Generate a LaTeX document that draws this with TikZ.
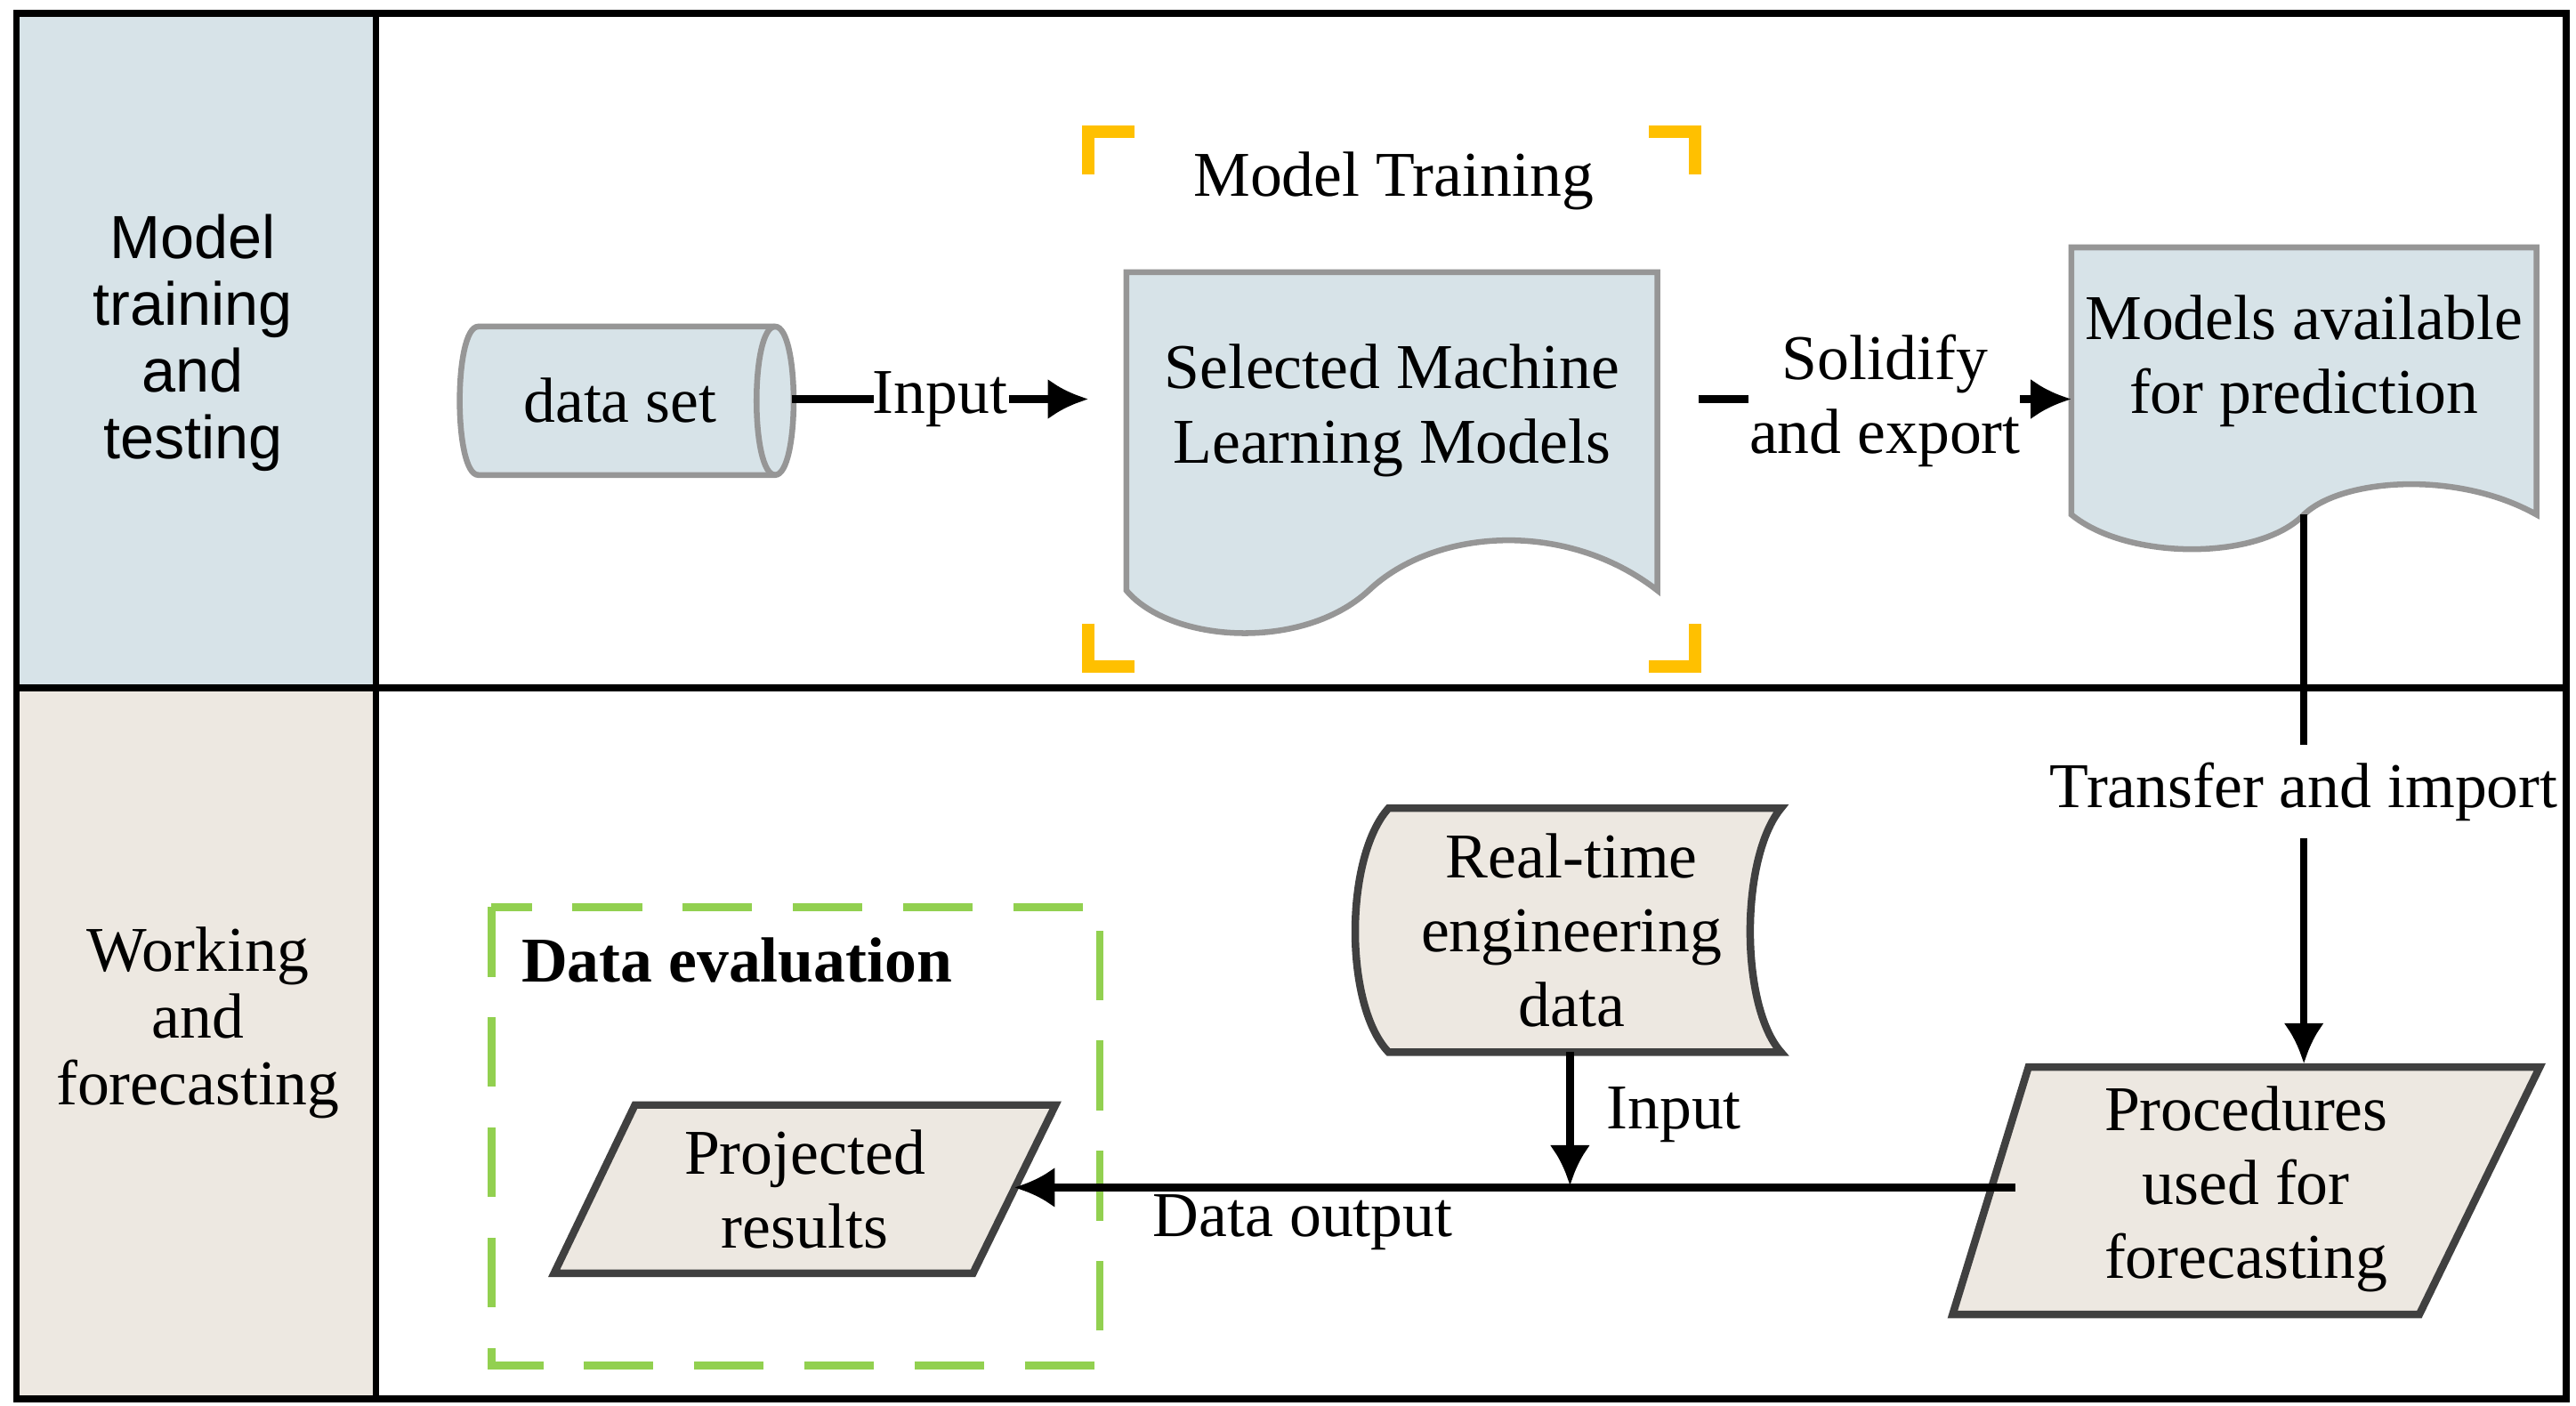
\documentclass[tikz,border=0pt]{standalone}
\usepackage{fontspec}
\setmainfont{Liberation Serif}
\newfontfamily\labsans{Liberation Sans}
\usetikzlibrary{arrows.meta}
\definecolor{bluefill}{RGB}{215,227,232}
\definecolor{beigefill}{RGB}{237,232,225}
\definecolor{shapeedge}{RGB}{150,150,150}
\definecolor{markorange}{RGB}{255,192,0}
\definecolor{evalgreen}{RGB}{146,208,80}
\tikzset{
  txt/.style={align=center,font=\fontsize{11}{12.8}\selectfont,inner sep=1pt},
  shp/.style={draw=shapeedge,line width=1pt},
  flow/.style={line width=1.3pt,-{Latex[length=7pt,width=7pt]}},
  orangemark/.style={markorange,line width=2.2pt},
}
\begin{document}
\begin{tikzpicture}[x=0.01cm,y=-0.01cm]
  \useasboundingbox (0,0) rectangle (1562,852);
  % lanes
  \fill[bluefill] (10,8) rectangle (228,417);
  \fill[beigefill] (10,417) rectangle (228,848);
  \draw[line width=1.2pt] (10,8) rectangle (1556,848);
  \draw[line width=1.2pt] (228,8) -- (228,848) (10,417) -- (1556,417);
  \node[txt,font=\labsans\fontsize{10.5}{11.5}\selectfont] (laneA) at (117,208) {Model\\training\\and\\testing};
  \node[txt,font=\fontsize{11}{11.5}\selectfont] (laneB) at (120,620) {Working\\and\\forecasting};
  % model training corners
  \draw[orangemark] (660,106) -- (660,80) -- (688,80) (1000,80) -- (1028,80) -- (1028,106)
    (660,378) -- (660,404) -- (688,404) (1000,404) -- (1028,404) -- (1028,378);
  \node[txt] (train) at (845,110) {Model Training};
  % data set
  \draw[shp,fill=bluefill] (290,198) -- (470,198) .. controls (485,198) and (485,288) .. (470,288)
    -- (290,288) .. controls (275,288) and (275,198) .. (290,198) -- cycle;
  \draw[shp] (470,198) .. controls (455,198) and (455,288) .. (470,288);
  \node[txt] (data) at (376,243) {data set};
  % selected models
  \draw[shp,fill=bluefill] (683,165) -- (1005,165) -- (1005,358) .. controls (950,315) and (870,320) .. (830,358)
    .. controls (790,395) and (710,390) .. (683,358) -- cycle;
  \node[txt] (select) at (844,249) {Selected Machine\\Learning Models};
  % models available
  \draw[shp,fill=bluefill] (1256,150) -- (1538,150) -- (1538,312) .. controls (1490,285) and (1420,290) .. (1397,312)
    .. controls (1370,340) and (1290,340) .. (1256,312) -- cycle;
  \node[txt] (avail) at (1397,219) {Models available\\for prediction};
  % real-time data
  \draw[shp,line width=1.3pt,draw=black!75,fill=beigefill] (842,490) -- (1080,490) .. controls (1055,520) and (1055,610) .. (1080,638)
    -- (842,638) .. controls (815,610) and (815,520) .. (842,490) -- cycle;
  \node[txt] (real) at (953,564) {Real-time\\engineering\\data};
  % procedures
  \draw[shp,line width=1.3pt,draw=black!75,fill=beigefill] (1230,647) -- (1540,647) -- (1467,797) -- (1184,797) -- cycle;
  \node[txt] (proc) at (1362,721) {Procedures\\used for\\forecasting};
  % data evaluation
  \draw[evalgreen,line width=1.3pt,dash pattern=on 12pt off 7pt] (298,550) rectangle (667,828);
  \node[txt,font=\bfseries\fontsize{11}{13}\selectfont,anchor=west] (evalt) at (312,582) {Data evaluation};
  \draw[shp,line width=1.3pt,draw=black!75,fill=beigefill] (385,670) -- (640,670) -- (590,772) -- (336,772) -- cycle;
  \node[txt] (proj) at (488,721) {Projected\\results};
  % connectors
  \coordinate (dsE) at (480,242);
  \coordinate (selW) at (660,242);
  \coordinate (avS) at (1397,312);
  \coordinate (prN) at (1397,645);
  \coordinate (prW) at (1222,720);
  \coordinate (pjE) at (615,720);
  \coordinate (rlS) at (952,638);
  \coordinate (jn) at (952,719);
  \draw[line width=1.3pt] (dsE) -- (530,242);
  \node[txt] (lin) at (570,242) {Input};
  \draw[flow] (612,242) -- (selW);
  \draw[line width=1.3pt] (1030,242) -- (1060,242);
  \node[txt] (lsol) at (1143,243) {Solidify\\and export};
  \draw[flow] (1225,242) -- (1256,242);
  \draw[flow] (avS) -- (prN);
  \node[txt,fill=white,inner xsep=0pt,inner ysep=3pt] (ltr) at (1397,480) {Transfer and import};
  \draw[flow] (prW) -- (pjE);
  \draw[flow] (rlS) -- (jn);
  \node[txt] (lin2) at (1015,676) {Input};
  \node[txt] (lout) at (790,741) {Data output};
\end{tikzpicture}
\end{document}
